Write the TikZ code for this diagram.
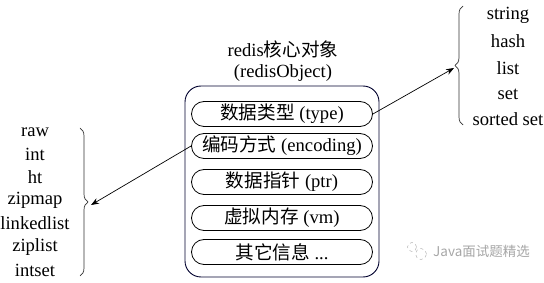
\documentclass[tikz,border=0pt]{standalone}
\usepackage{fontspec}
\setmainfont{Liberation Serif}
\newfontfamily\cjk{Noto Sans CJK SC}
\usetikzlibrary{decorations.pathreplacing,arrows.meta}
\begin{document}
\begin{tikzpicture}[x=1pt,y=-1pt,
  every node/.style={font=\fontsize{18.6}{20}\selectfont, inner sep=0pt},
  pill/.style={draw=black, line width=0.8pt, rounded corners=12.5pt, minimum width=181pt, minimum height=25pt},
  outerbox/.style={draw=black!75!blue!70!black, line width=0.9pt, rounded corners=16pt},
  listitem/.style={anchor=center},
  bracestyle/.style={draw=black!80, line width=0.7pt, decorate, decoration={brace, amplitude=8pt}},
  conn/.style={draw=black, line width=0.7pt, -{Stealth[length=8pt,width=6pt]}},
  wm/.style={text=black!35, font=\cjk\fontsize{13.5}{15}\selectfont}
]
\useasboundingbox (0,0) rectangle (544,283);
% title
\node (t1) at (283,49) {redis{\cjk 核心对象}};
\node (t2) at (283,73) {(redisObject)};
% outer box
\draw[outerbox] (185,86) rectangle (379,277);
\node[pill] (p1) at (282,114) {{\cjk 数据类型} (type)};
\node[pill] (p2) at (282,146) {{\cjk 编码方式} (encoding)};
\node[pill] (p3) at (282,182) {{\cjk 数据指针} (ptr)};
\node[pill] (p4) at (282,218) {{\cjk 虚拟内存} (vm)};
\node[pill] (p5) at (282,252) {{\cjk 其它信息} ...};
% left list
\node[listitem] (l1) at (35,132) {raw};
\node[listitem] (l2) at (35,154) {int};
\node[listitem] (l3) at (35,177) {ht};
\node[listitem] (l4) at (35,200) {zipmap};
\node[listitem] (l5) at (35,223) {linkedlist};
\node[listitem] (l6) at (35,247) {ziplist};
\node[listitem] (l7) at (35,270) {intset};
% right list
\node[listitem] (r1) at (508,15) {string};
\node[listitem] (r2) at (508,41) {hash};
\node[listitem] (r3) at (508,68) {list};
\node[listitem] (r4) at (508,94) {set};
\node[listitem] (r5) at (508,119) {sorted set};
% braces
\coordinate (lbt) at (80,128);
\coordinate (lbb) at (80,276);
\coordinate (ltip) at (91,205);
\draw[bracestyle] (lbt) -- (lbb);
\coordinate (rbb) at (463,125);
\coordinate (rbt) at (463,6);
\coordinate (rtip) at (454,68);
\draw[bracestyle] (rbb) -- (rbt);
% connectors
\draw[conn] (p2.west) -- (ltip);
\draw[conn] (p1.east) -- (rtip);
% watermark
\node[draw=black!30, dashed, circle, minimum size=9pt, line width=0.5pt] (wi1) at (412,247) {};
\node[draw=black!30, dashed, circle, minimum size=11pt, line width=0.5pt] (wi2) at (421,254) {};
\node[wm, anchor=west] (wt) at (433,251) {Java面试题精选};
\end{tikzpicture}
\end{document}
